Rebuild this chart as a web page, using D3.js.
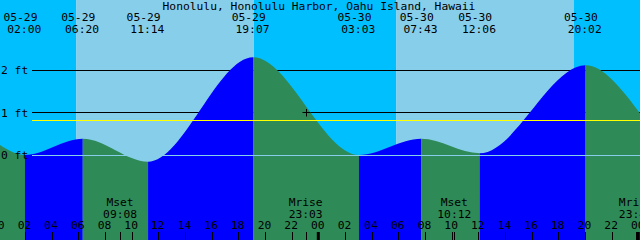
<!DOCTYPE html>
<html>
<head>
<meta charset="utf-8">
<script src="https://cdn.jsdelivr.net/npm/d3@7"></script>
<style>
  body { margin: 0; background: #fff; overflow: hidden; }
  svg { display: block; }
  text { font-family: "DejaVu Sans Mono", monospace; font-size: 11.3px; fill: #000; }
</style>
</head>
<body>
<div id="tide-chart"></div>
<script>

// chart title
var title = "Honolulu, Honolulu Harbor, Oahu Island, Hawaii";

// high / low tides
var tideTimes  = ["05-29 02:00", "05-29 06:20", "05-29 11:14", "05-29 19:07",
                  "05-30 03:03", "05-30 07:43", "05-30 12:06", "05-30 20:02"];
var tideLevels = [0.00, 0.38, -0.16, 2.30, 0.00, 0.38, 0.04, 2.11];

// level of the curve at the left and right edges
var edgeTimes  = ["05-29 00:00", "05-31 00:08"];
var edgeLevels = [0.26, 0.98];

// sunrise / sunset
var sunriseTimes = ["05-29 05:50", "05-30 05:50"];
var sunsetTimes  = ["05-29 19:10", "05-30 19:09"];

// moon events
var moonNames = ["Mset", "Mrise", "Mset", "Mrise"];
var moonTimes = ["05-29 09:08", "05-29 23:03", "05-30 10:12", "05-30 23:49"];

// horizontal reference lines
var gridLevels = [0, 1, 2];
var gridLabels = ["0 ft", "1 ft", "2 ft"];
var meanLevel = 0.82;

// marker cross
var markTime = "05-29 23:03";
var markLevel = 1.0;

// time span of the window
var startTime = "05-29 00:00";
var endTime = "05-31 00:00";


/*
 *  TideChart - constructor
 */
TideChart = function(_parent) {
    var self = this;
    self.parent = _parent;
    self.initVis();
}

TideChart.prototype.initVis = function() {
    var self = this;
    self.width = 640;
    self.height = 240;

    self.parse = d3.utcParse("%m-%d %H:%M");

    self.svg = d3.select(self.parent).append("svg")
        .attr("width", self.width)
        .attr("height", self.height);

    self.x = d3.scaleUtc()
        .domain([self.parse(startTime), self.parse(endTime)])
        .range([-1.7, 638.3]);

    self.y = d3.scaleLinear()
        .domain([0, 2])
        .range([155, 70]);

    self.wrangleData();
}

TideChart.prototype.wrangleData = function() {
    var self = this;

    var pts = [];
    pts.push({t: self.parse(edgeTimes[0]), v: edgeLevels[0]});
    tideTimes.forEach(function(d, i) {
        pts.push({t: self.parse(d), v: tideLevels[i], label: d});
    });
    pts.push({t: self.parse(edgeTimes[1]), v: edgeLevels[1]});
    self.points = pts;

    // flood / ebb segments between turning points
    self.segments = [];
    for (var i = 0; i < pts.length - 1; i++) {
        self.segments.push({
            t0: pts[i].t, t1: pts[i + 1].t,
            rising: pts[i + 1].v > pts[i].v
        });
    }

    // day / night bands
    var start = self.parse(startTime), end = self.parse("05-31 00:10");
    var edges = [start];
    sunriseTimes.forEach(function(d, i) {
        edges.push(self.parse(d));
        edges.push(self.parse(sunsetTimes[i]));
    });
    edges.push(end);
    self.bands = [];
    for (var j = 0; j < edges.length - 1; j++) {
        self.bands.push({t0: edges[j], t1: edges[j + 1], day: j % 2 == 1});
    }

    self.moon = moonTimes.map(function(d, i) {
        return {t: self.parse(d), name: moonNames[i], time: d.slice(6)};
    });

    self.updateVis();
}

TideChart.prototype.updateVis = function() {
    var self = this;
    var x = self.x, y = self.y, svg = self.svg;
    var px = function(v) { return Math.floor(y(v)) + 0.5; };

    // sky
    svg.append("g").selectAll("rect")
        .data(self.bands)
        .enter().append("rect")
        .attr("x", function(d) { return x(d.t0); })
        .attr("width", function(d) { return x(d.t1) - x(d.t0); })
        .attr("y", 0)
        .attr("height", self.height)
        .attr("fill", function(d) { return d.day ? "#87CEEB" : "#00BFFF"; });

    // black lines behind the water
    svg.append("g").selectAll("line")
        .data(gridLevels.filter(function(d) { return d != 0; }))
        .enter().append("line")
        .attr("x1", 32).attr("x2", self.width)
        .attr("y1", px).attr("y2", px)
        .attr("stroke", "#000")
        .attr("stroke-width", 1);

    // water
    var area = d3.area()
        .x(function(d) { return x(d.t); })
        .y0(self.height)
        .y1(function(d) { return y(d.v); })
        .curve(d3.curveMonotoneX);

    svg.append("clipPath").attr("id", "water")
        .append("path")
        .attr("d", area(self.points));

    svg.append("g").attr("clip-path", "url(#water)")
        .selectAll("rect")
        .data(self.segments)
        .enter().append("rect")
        .attr("x", function(d) { return x(d.t0); })
        .attr("width", function(d) { return x(d.t1) - x(d.t0); })
        .attr("y", 0)
        .attr("height", self.height)
        .attr("fill", function(d) { return d.rising ? "#0000FF" : "#2E8B57"; });

    // zero line and mean level over the water
    svg.append("line")
        .attr("x1", 32).attr("x2", self.width)
        .attr("y1", px(0)).attr("y2", px(0))
        .attr("stroke", "#87CEEB");

    svg.append("line")
        .attr("x1", 32).attr("x2", self.width)
        .attr("y1", px(meanLevel)).attr("y2", px(meanLevel))
        .attr("stroke", "#FFFF00");

    // level labels
    svg.append("g").selectAll("text")
        .data(gridLevels)
        .enter().append("text")
        .attr("x", 1)
        .attr("y", function(d) { return y(d) + 4; })
        .text(function(d, i) { return gridLabels[i]; });

    // marker cross
    var mx = Math.round(x(self.parse(markTime))) + 0.5, my = px(markLevel);
    svg.append("path")
        .attr("d", "M" + (mx - 4) + "," + my + "H" + (mx + 4) + "M" + mx + "," + (my - 3.5) + "V" + (my + 4))
        .attr("stroke", "#000")
        .attr("fill", "none");

    // title
    svg.append("text")
        .attr("x", 319)
        .attr("y", 9.5)
        .attr("text-anchor", "middle")
        .text(title);

    // tide event labels
    var events = svg.append("g").selectAll("g")
        .data(self.points.filter(function(d) { return d.label; }))
        .enter().append("g")
        .attr("transform", function(d) { return "translate(" + x(d.t) + ",0)"; });

    events.append("text")
        .attr("x", -4.5).attr("y", 20.5)
        .attr("text-anchor", "middle")
        .text(function(d) { return d.label.slice(0, 5); });

    events.append("text")
        .attr("x", -0.7).attr("y", 33)
        .attr("text-anchor", "middle")
        .text(function(d) { return d.label.slice(6); });

    // hour axis along the bottom
    var axis = d3.axisTop(x)
        .tickValues(d3.utcHour.every(2).range(self.parse(startTime), self.parse("05-31 00:01")))
        .tickSize(8)
        .tickPadding(3)
        .tickFormat(d3.utcFormat("%H"));

    var gAxis = svg.append("g")
        .attr("transform", "translate(0," + self.height + ")")
        .call(axis);
    gAxis.select(".domain").remove();
    gAxis.selectAll("line").attr("stroke", "#000").attr("shape-rendering", "crispEdges");
    gAxis.selectAll("text")
        .attr("x", -1)
        .style("font-family", "DejaVu Sans Mono, monospace")
        .style("font-size", "11.3px");

    // midnight marks
    svg.append("g").selectAll("rect")
        .data([self.parse("05-30 00:00"), self.parse("05-31 00:00")])
        .enter().append("rect")
        .attr("x", function(d) { return x(d) - 1.5; })
        .attr("y", 232)
        .attr("width", 3)
        .attr("height", 8)
        .attr("fill", "#000");

    // moon events
    var moon = svg.append("g").selectAll("g")
        .data(self.moon)
        .enter().append("g")
        .attr("transform", function(d) { return "translate(" + x(d.t) + ",0)"; });

    moon.append("line")
        .attr("x1", 0.5).attr("x2", 0.5)
        .attr("y1", 232).attr("y2", 240)
        .attr("stroke", "#000")
        .attr("shape-rendering", "crispEdges");

    moon.append("text")
        .attr("y", 206)
        .attr("text-anchor", "middle")
        .text(function(d) { return d.name; });

    moon.append("text")
        .attr("y", 217.5)
        .attr("text-anchor", "middle")
        .text(function(d) { return d.time; });
}

var chart = new TideChart("#tide-chart");

</script>
</body>
</html>
